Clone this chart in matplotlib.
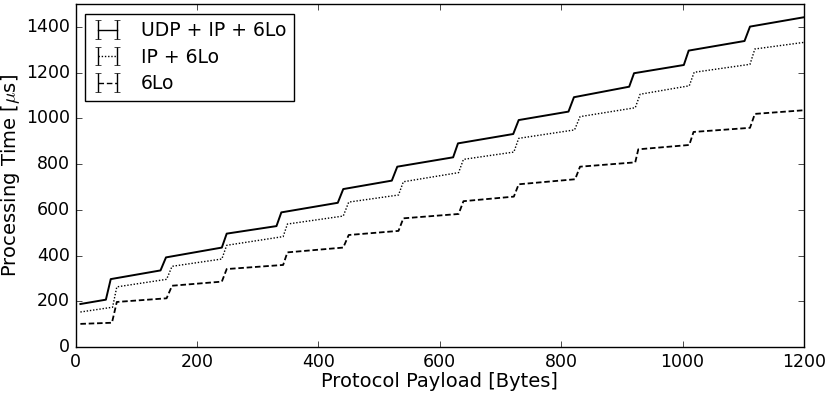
import numpy as np
import matplotlib
matplotlib.use("Agg")
import matplotlib.pyplot as plt

# breakpoints of the processing time curves (payload bytes -> microseconds)
udp_x = [8, 50, 58, 140, 149, 241, 249, 331, 339, 432, 441, 521, 530, 622, 630,
         721, 730, 812, 821, 912, 920, 1002, 1010, 1102, 1111, 1200]
udp_y = [188, 207, 297, 335, 392, 435, 496, 529, 589, 631, 691, 728, 789, 830, 891,
         932, 993, 1030, 1093, 1139, 1198, 1234, 1297, 1339, 1402, 1443]

ip_x = [8, 61, 68, 150, 159, 241, 249, 342, 349, 441, 450, 532, 540, 631, 639,
        722, 730, 822, 831, 922, 930, 1011, 1019, 1111, 1119, 1200]
ip_y = [153, 174, 263, 296, 353, 385, 445, 483, 538, 573, 634, 665, 723, 763, 821,
        853, 913, 950, 1008, 1047, 1106, 1143, 1202, 1237, 1304, 1333]

lo_x = [8, 60, 68, 150, 159, 241, 249, 342, 349, 441, 450, 532, 540, 631, 639,
        722, 730, 823, 831, 922, 927, 1011, 1018, 1111, 1119, 1200]
lo_y = [101, 106, 197, 213, 268, 286, 341, 359, 414, 435, 490, 508, 563, 582, 638,
        658, 712, 734, 789, 808, 865, 884, 941, 959, 1020, 1036]

labels = ["UDP + IP + 6Lo", "IP + 6Lo", "6Lo"]

plt.style.use("classic")
fig = plt.figure(figsize=(8.3, 3.97), dpi=100, facecolor="white")
ax = fig.add_axes([0.091, 0.126, 0.8777, 0.8634])

# (x, y, dash pattern, line width)
series = [(udp_x, udp_y, None, 1.4), (ip_x, ip_y, (1, 1.3), 1.0), (lo_x, lo_y, (4, 2), 1.3)]
for (x, y, dash, lw), lab in zip(series, labels):
    if dash is None:
        ax.plot(x, y, color="k", linestyle="-", linewidth=lw)
        ax.errorbar([np.nan], [np.nan], yerr=[1], color="k", linestyle="-",
                    linewidth=1.0, capsize=2, label=lab)
    else:
        ax.plot(x, y, color="k", dashes=dash, linewidth=lw)
        # empty errorbar only for the legend handle with caps
        ax.errorbar([np.nan], [np.nan], yerr=[1], color="k", dashes=dash,
                    linewidth=1.0, capsize=2, label=lab)

ax.set_xlim(0, 1200)
ax.set_ylim(0, 1500)
ax.set_xticks(range(0, 1201, 200))
ax.set_yticks(range(0, 1401, 200))
ax.tick_params(labelsize=12.5)
ax.set_xlabel("Protocol Payload [Bytes]", fontsize=14, labelpad=1)
ax.set_ylabel(r"Processing Time [$\mu$s]", fontsize=14, labelpad=3)

leg = ax.legend(loc="upper left", fontsize=13.5, numpoints=2, handlelength=1.6,
                handletextpad=1.0, borderaxespad=0.5, labelspacing=0.4)
leg.get_frame().set_linewidth(1.0)

fig.savefig("out.png", dpi=100, facecolor="white")
